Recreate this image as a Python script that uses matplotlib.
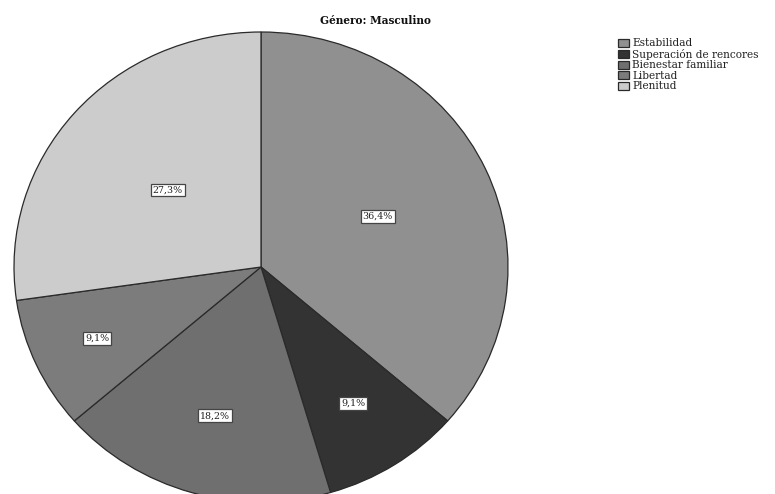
import numpy as np
import matplotlib
matplotlib.use("Agg")
import matplotlib.pyplot as plt

# Data
categories = ["Estabilidad", "Superación de rencores", "Bienestar familiar", "Libertad", "Plenitud"]
percentages = [36.4, 9.1, 18.2, 9.1, 27.3]
colors = ["#909090", "#333333", "#6f6f6f", "#7c7c7c", "#cccccc"]
title = "Género: Masculino"

# radial placement of each percentage label (fraction of radius)
label_radius = [0.52, 0.69, 0.66, 0.73, 0.50]

plt.rcParams["font.family"] = ["DejaVu Serif", "Liberation Serif"]

W, H = 775, 494
fig = plt.figure(figsize=(W / 100, H / 100), dpi=100)

# pie occupies a slightly flattened region (ellipse)
left_px, right_px, top_px, bottom_px = 14, 508, 32, 502
ax = fig.add_axes([left_px / W, (H - bottom_px) / H,
                   (right_px - left_px) / W, (bottom_px - top_px) / H])

wedges, texts = ax.pie(
    percentages, colors=colors, startangle=90, counterclock=False,
    radius=1.0,
    wedgeprops=dict(edgecolor="#2a2a2a", linewidth=0.9),
)
ax.set_aspect("auto")
ax.set_xlim(-1, 1)
ax.set_ylim(-1, 1)
ax.axis("off")

for w, val, r in zip(wedges, percentages, label_radius):
    mid = np.deg2rad((w.theta1 + w.theta2) / 2)
    ax.text(r * np.cos(mid), r * np.sin(mid),
            f"{val:.1f}%".replace(".", ","),
            ha="center", va="center", fontsize=6.8, color="#222222",
            bbox=dict(boxstyle="square,pad=0.2", facecolor="white",
                      edgecolor="#444444", linewidth=0.9))

fig.text(375 / W, 1 - 20 / H, title, ha="center", va="center",
         fontsize=7.6, fontweight="bold", color="#111111")

leg = fig.legend(wedges, categories, loc="upper left",
                 bbox_to_anchor=(613 / W, 1 - 33 / H), frameon=False,
                 fontsize=7.6, handlelength=1.0, handleheight=0.8,
                 handletextpad=0.3, labelspacing=0.05, borderpad=0.0)
for t in leg.get_texts():
    t.set_color("#222222")

fig.savefig("out.png", dpi=100)
